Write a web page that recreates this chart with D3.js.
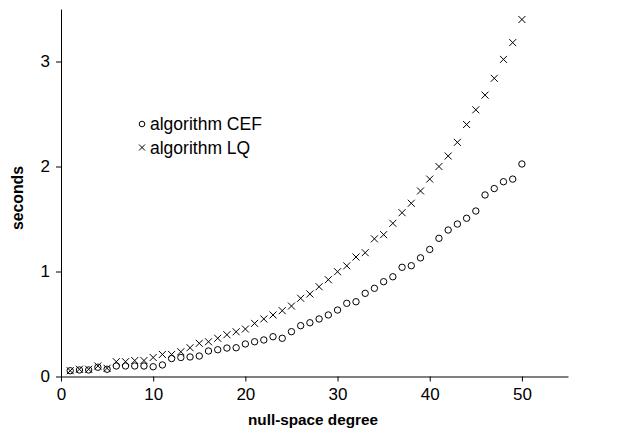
<!DOCTYPE html>
<html>
<head>
<meta charset="utf-8">
<script src="https://cdn.jsdelivr.net/npm/d3@7"></script>
<style>
  body { margin: 0; background: #fff; }
  text { font-family: Arial, "Liberation Sans", sans-serif; }
</style>
</head>
<body>
<svg id="chart" width="623" height="434"></svg>
<script>
// null-space degree 1..50
var degrees = d3.range(1, 51)

var cefSeconds = [
  0.055, 0.062, 0.062, 0.088, 0.069, 0.10, 0.10, 0.10, 0.10, 0.093,
  0.11, 0.171, 0.181, 0.186, 0.195, 0.243, 0.255, 0.271, 0.274, 0.31,
  0.331, 0.348, 0.379, 0.364, 0.427, 0.484, 0.512, 0.548, 0.586, 0.633,
  0.697, 0.712, 0.792, 0.84, 0.903, 0.95, 1.04, 1.055, 1.13, 1.21,
  1.316, 1.395, 1.452, 1.507, 1.576, 1.729, 1.79, 1.855, 1.88, 2.024
]

var lqSeconds = [
  0.055, 0.069, 0.069, 0.10, 0.078, 0.141, 0.141, 0.152, 0.152, 0.181,
  0.21, 0.21, 0.236, 0.274, 0.316, 0.331, 0.364, 0.398, 0.426, 0.452,
  0.506, 0.548, 0.586, 0.627, 0.671, 0.745, 0.786, 0.855, 0.922, 0.998,
  1.054, 1.138, 1.179, 1.311, 1.351, 1.459, 1.56, 1.65, 1.767, 1.88,
  2.00, 2.10, 2.23, 2.40, 2.54, 2.68, 2.84, 3.02, 3.18, 3.40
]

var xTicks = [0, 10, 20, 30, 40, 50]
var yTicks = [0, 1, 2, 3]
var legendLabels = ['algorithm CEF', 'algorithm LQ']

var svg = d3.select('#chart')
var x = d3.scaleLinear().domain([0, 55]).range([61, 568])
var y = d3.scaleLinear().domain([0, 3.5]).range([376.5, 9])

svg.append('g')
    .attr('transform', 'translate(0,376.5)')
    .call(d3.axisBottom(x).tickValues(xTicks).tickFormat(d3.format('d'))
      .tickSize(5).tickSizeOuter(0).tickPadding(6))
svg.append('g')
    .attr('transform', 'translate(61,0)')
    .call(d3.axisLeft(y).tickValues(yTicks).tickFormat(d3.format('d'))
      .tickSize(5).tickSizeOuter(0).tickPadding(6))

svg.selectAll('.tick text').attr('font-size', 17).attr('fill', '#000')
  .style('font-family', 'Arial, "Liberation Sans", sans-serif')
svg.selectAll('.domain, .tick line').attr('stroke', '#000')

svg.append('text')
    .attr('x', 313).attr('y', 425)
    .attr('text-anchor', 'middle')
    .attr('font-size', 15.3).attr('font-weight', 'bold')
    .text('null-space degree')

svg.append('text')
    .attr('transform', 'translate(23,198) rotate(-90)')
    .attr('text-anchor', 'middle')
    .attr('font-size', 15.8).attr('font-weight', 'bold')
    .text('seconds')

function drawCross(sel, cx, cy, s){
  sel.append('path')
    .attr('d', 'M' + (cx - s) + ',' + (cy - s) + 'L' + (cx + s) + ',' + (cy + s) +
               'M' + (cx - s) + ',' + (cy + s) + 'L' + (cx + s) + ',' + (cy - s))
    .attr('stroke', '#000').attr('stroke-width', 1).attr('fill', 'none')
}

var marks = svg.append('g')

marks.selectAll('circle.cef')
  .data(degrees)
  .join('circle')
    .attr('class', 'cef')
    .attr('cx', d => x(d))
    .attr('cy', (d, i) => y(cefSeconds[i]))
    .attr('r', 3.2)
    .attr('fill', 'none').attr('stroke', '#000').attr('stroke-width', 1)

degrees.forEach((d, i) => drawCross(marks, x(d), y(lqSeconds[i]), 3.5))

// legend
var legend = svg.append('g')
legend.append('circle')
    .attr('cx', 142).attr('cy', 124).attr('r', 2.8)
    .attr('fill', 'none').attr('stroke', '#000')
drawCross(legend, 142, 147.5, 3)
legend.selectAll('text')
  .data(legendLabels)
  .join('text')
    .attr('x', 150)
    .attr('y', (d, i) => 130 + i * 23.5)
    .attr('font-size', 17.5)
    .text(d => d)
</script>
</body>
</html>
